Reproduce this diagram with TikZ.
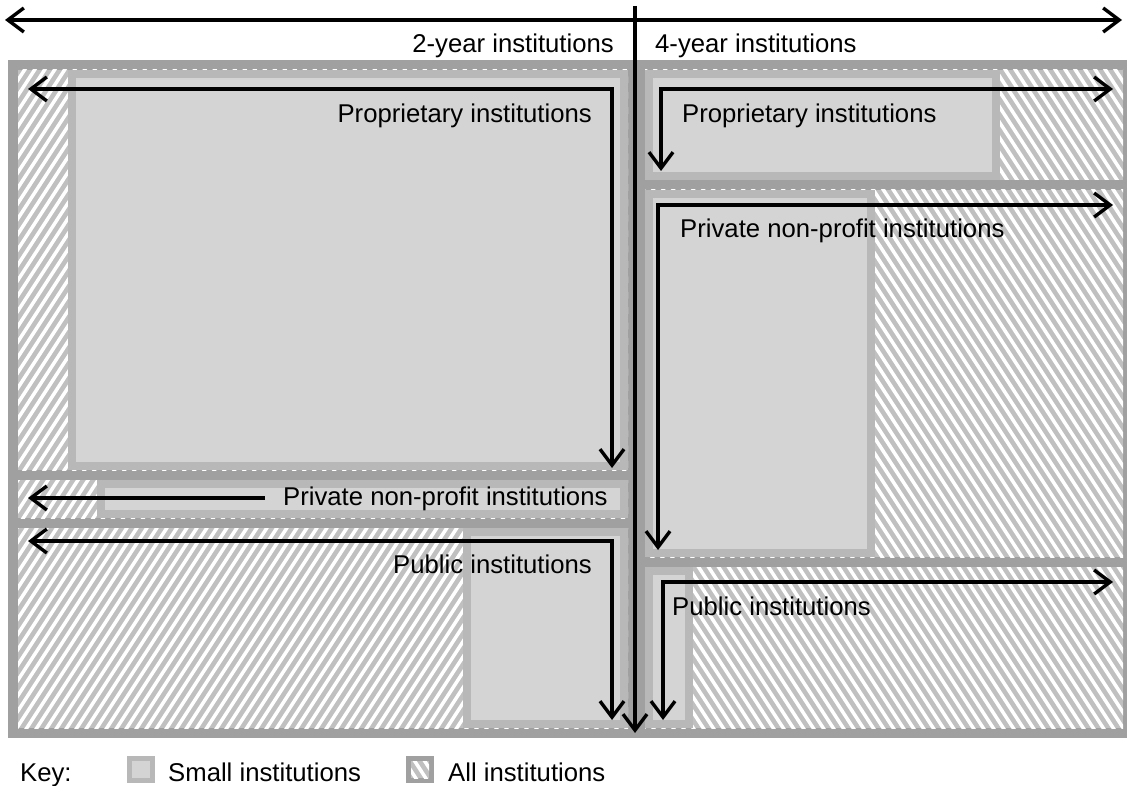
\documentclass[tikz,border=0pt]{standalone}
\usepackage{fontspec}
\setmainfont{Liberation Sans}
\usetikzlibrary{arrows.meta}
\definecolor{frameC}{HTML}{A0A0A0}
\definecolor{smallC}{HTML}{D4D4D4}
\definecolor{smallB}{HTML}{B8B8B8}
\definecolor{hatchC}{HTML}{C0C0C0}
\newcommand\HatchRect[5]{%
  \begin{scope}
    \clip (#1,#2) rectangle (#3,#4);
    \fill[hatchC] (#1,#2) rectangle (#3,#4);
    \ifnum#5=1
      \foreach \a in {-600,-590,...,1800} \draw[white, line width=3.5pt] (\a,0) -- ++(-520,800);
    \else
      \foreach \a in {-600,-590,...,1800} \draw[white, line width=3.5pt] (\a,0) -- ++(520,800);
    \fi
  \end{scope}}
\newcommand\SmallRect[4]{%
  \fill[smallB] (#1,#2) rectangle (#3,#4);
  \fill[smallC] (#1+8,#2+8) rectangle (#3-8,#4-8);}
\begin{document}
\begin{tikzpicture}[x=1pt,y=-1pt,
  lab/.style={inner sep=0pt, font=\fontsize{25.7}{30}\selectfont},
  arr/.style={line width=3.4pt, -{Straight Barb[length=16pt,width=24pt]}},
  darr/.style={line width=3.4pt, {Straight Barb[length=16pt,width=24pt]}-{Straight Barb[length=16pt,width=24pt]}}]
\useasboundingbox (0,0) rectangle (1127,786);
\fill[white] (0,0) rectangle (1127,786);
% outer frame
\fill[frameC] (8,60) rectangle (1133,738);
% all institutions (hatched)
\HatchRect{18}{70}{628}{470}{1}
\HatchRect{18}{480}{628}{518}{1}
\HatchRect{18}{528}{628}{728}{1}
\HatchRect{645}{70}{1123}{180}{0}
\HatchRect{645}{190}{1123}{557}{0}
\HatchRect{645}{567}{1123}{728}{0}
% small institutions
\SmallRect{68}{70}{628}{470}
\SmallRect{97}{480}{628}{518}
\SmallRect{463}{528}{628}{728}
\SmallRect{645}{70}{1000}{180}
\SmallRect{645}{190}{875}{557}
\SmallRect{645}{567}{693}{728}
% top axis
\coordinate (tl) at (5,20);
\coordinate (tr) at (1122,20);
\coordinate (vt) at (635,6);
\coordinate (vb) at (635,733);
\draw[darr] (tl) -- (tr);
\draw[arr] (vt) -- (vb);
\node[lab, anchor=base east] (t2) at (614,53) {2-year institutions};
\node[lab, anchor=base west] (t4) at (655,53) {4-year institutions};
% left proprietary
\coordinate (lpA) at (28,89);
\coordinate (lpC) at (612,89);
\coordinate (lpB) at (612,468);
\draw[darr] (lpA) -- (lpC) -- (lpB);
\node[lab, anchor=base east] (lp) at (592,123) {Proprietary institutions};
% left private non-profit
\coordinate (lnS) at (265,498);
\coordinate (lnE) at (28,498);
\draw[arr] (lnS) -- (lnE);
\node[lab, anchor=base west] (ln) at (283,505) {Private non-profit institutions};
% left public
\coordinate (luA) at (28,541);
\coordinate (luC) at (612,541);
\coordinate (luB) at (612,720);
\draw[darr] (luA) -- (luC) -- (luB);
\node[lab, anchor=base east] (lu) at (592,573) {Public institutions};
% right proprietary
\coordinate (rpA) at (1113,89);
\coordinate (rpC) at (661,89);
\coordinate (rpB) at (661,171);
\draw[darr] (rpA) -- (rpC) -- (rpB);
\node[lab, anchor=base west] (rp) at (682,123) {Proprietary institutions};
% right private non-profit
\coordinate (rnA) at (1113,205);
\coordinate (rnC) at (658,205);
\coordinate (rnB) at (658,550);
\draw[darr] (rnA) -- (rnC) -- (rnB);
\node[lab, anchor=base west] (rn) at (680,238) {Private non-profit institutions};
% right public
\coordinate (ruA) at (1113,582);
\coordinate (ruC) at (663,582);
\coordinate (ruB) at (663,720);
\draw[darr] (ruA) -- (ruC) -- (ruB);
\node[lab, anchor=base west] (ru) at (672,615) {Public institutions};
% key
\node[lab, anchor=base west] (key) at (20,781) {Key:};
\fill[smallB] (127,756) rectangle (155,783);
\fill[smallC] (132,761) rectangle (150,778);
\node[lab, anchor=base west] (ks) at (168,781) {Small institutions};
\fill[frameC] (406,756) rectangle (434,783);
\HatchRect{411}{761}{429}{778}{0}
\node[lab, anchor=base west] (ka) at (448,781) {All institutions};
\end{tikzpicture}
\end{document}
